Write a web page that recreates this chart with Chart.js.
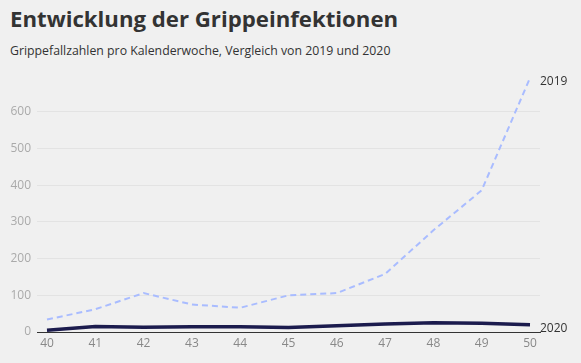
<!DOCTYPE html>
<html><head><meta charset="utf-8">
<script src="https://cdn.jsdelivr.net/npm/chart.js@4"></script>
<style>
html,body{margin:0;padding:0;background:#f0f0f0;}
#wrap{position:relative;width:581px;height:363px;overflow:hidden;font-family:"Open Sans",sans-serif;}
#t{position:absolute;left:10px;top:3px;font-size:22.2px;font-weight:700;color:#333;white-space:nowrap;}
#s{position:absolute;left:10px;top:42px;font-size:12.3px;color:#333;white-space:nowrap;}
canvas{position:absolute;left:0;top:0;}
</style></head>
<body><div id="wrap">
<div id="t">Entwicklung der Grippeinfektionen</div>
<div id="s">Grippefallzahlen pro Kalenderwoche, Vergleich von 2019 und 2020</div>
<canvas id="c" width="581" height="363"></canvas>
</div>
<script>
const weeks = [40,41,42,43,44,45,46,47,48,49,50];
const cases2019 = [34,62,106,75,66,100,106,158,277,386,692];
const cases2020 = [5,15,13,14,14,12,17,22,25,24,20];
const seriesLabels = ["2019","2020"];

const toXY = vals => vals.map((v,i)=>({x:weeks[i],y:v}));

const endLabels = {
  id:'endLabels',
  afterDatasetsDraw(chart){
    const ctx = chart.ctx;
    ctx.save();
    ctx.font = '12px "Open Sans"';
    ctx.fillStyle = '#333';
    ctx.textBaseline = 'middle';
    ctx.textAlign = 'left';
    chart.data.datasets.forEach((ds,i)=>{
      const meta = chart.getDatasetMeta(i);
      const pt = meta.data[meta.data.length-1];
      ctx.fillText(ds.label, pt.x + 10, pt.y + 4);
    });
    ctx.restore();
  }
};

new Chart(document.getElementById('c'),{
  type:'line',
  data:{datasets:[
    {label:seriesLabels[0],data:toXY(cases2019),borderColor:'#a9bcff',borderWidth:2,borderDash:[6,4],pointRadius:0,tension:0,fill:false},
    {label:seriesLabels[1],data:toXY(cases2020),borderColor:'#1b1b4d',borderWidth:3.5,pointRadius:0,tension:0,fill:false}
  ]},
  options:{
    responsive:false,animation:false,
    layout:{padding:{top:75,right:41,left:0,bottom:0}},
    plugins:{legend:{display:false},tooltip:{enabled:false}},
    scales:{
      x:{type:'linear',min:39.793,max:50.207,
        afterFit(s){s.height=31;},
        ticks:{stepSize:1,includeBounds:false,color:'#888',font:{family:'"Open Sans"',size:12},padding:4,autoSkip:false,maxRotation:0},
        grid:{display:false,drawTicks:false},
        border:{display:true,color:'#333',width:1}
      },
      y:{min:0,max:700,
        afterFit(s){s.width=37;},
        afterBuildTicks(s){s.ticks=s.ticks.filter(t=>t.value<=600);},
        ticks:{stepSize:100,color:'#aaa',font:{family:'"Open Sans"',size:12},padding:6},
        grid:{color:'#e3e3e3',drawTicks:false},
        border:{display:false}
      }
    }
  },
  plugins:[endLabels]
});
</script>
</body></html>
